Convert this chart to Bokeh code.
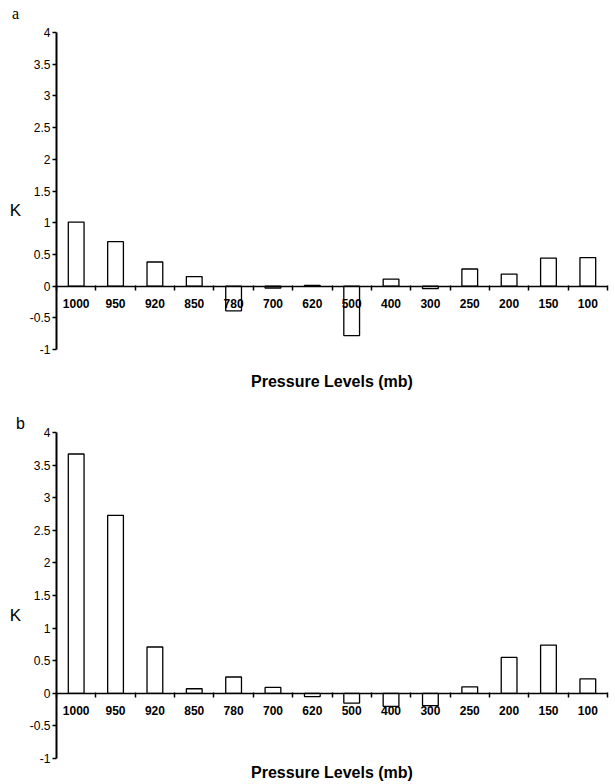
from bokeh.plotting import figure
from bokeh.layouts import column
from bokeh.models import FixedTicker, NumeralTickFormatter, Label, Range1d
from bokeh.embed import file_html
from bokeh.resources import INLINE

levels = ["1000", "950", "920", "850", "780", "700", "620", "500", "400", "300", "250", "200", "150", "100"]
anom_a = [1.01, 0.70, 0.38, 0.15, -0.39, -0.03, 0.01, -0.78, 0.11, -0.04, 0.27, 0.19, 0.44, 0.45]
anom_b = [3.67, 2.73, 0.71, 0.07, 0.25, 0.09, -0.05, -0.15, -0.20, -0.19, 0.10, 0.55, 0.74, 0.22]
y_ticks = [-1, -0.5, 0, 0.5, 1, 1.5, 2, 2.5, 3, 3.5, 4]
x_title = "Pressure Levels (mb)"
y_title = "K"

SANS = "Liberation Sans"
W = 615
H = 392
AX_LEFT = 56      # pixel of y axis
AX_RIGHT = 607    # pixel of end of x axis
Y_MIN, Y_MAX = -1, 4


def panel(vals, tag, tag_font, tag_px, top_px, bot_px, title_px):
    n = len(levels)
    xs = [i + 0.5 for i in range(n)]
    xu = (AX_RIGHT - AX_LEFT) / n          # px per category
    yu = (bot_px - top_px) / (Y_MAX - Y_MIN)  # px per unit
    x0 = -AX_LEFT / xu
    x1 = n + (W - AX_RIGHT) / xu
    y1 = Y_MAX + top_px / yu
    y0 = Y_MIN - (H - bot_px) / yu

    def dx(px):
        return x0 + px / xu

    def dy(py):
        return y1 - py / yu

    p = figure(width=W, height=H, x_range=Range1d(x0, x1), y_range=Range1d(y0, y1),
               output_backend="svg", toolbar_location=None, min_border=0)
    p.outline_line_color = None
    p.xgrid.visible = False
    p.ygrid.visible = False
    p.background_fill_color = "white"
    p.border_fill_color = "white"

    p.vbar(x=xs, top=vals, bottom=0, width=0.4, fill_color="white",
           line_color="black", line_width=1.3)

    xa = p.xaxis[0]
    xa.ticker = FixedTicker(ticks=xs, minor_ticks=list(range(n + 1)))
    xa.major_label_overrides = {x: lab for x, lab in zip(xs, levels)}
    xa.fixed_location = 0
    xa.bounds = (0, n)
    xa.major_tick_in = 0
    xa.major_tick_out = 0
    xa.minor_tick_in = 1
    xa.minor_tick_out = 4
    xa.minor_tick_line_width = 1.5
    xa.axis_line_width = 1.5
    xa.major_label_standoff = 9
    xa.major_label_text_font = SANS
    xa.major_label_text_font_style = "bold"
    xa.major_label_text_font_size = "12px"
    xa.major_label_text_color = "black"

    ya = p.yaxis[0]
    ya.ticker = FixedTicker(ticks=y_ticks)
    ya.formatter = NumeralTickFormatter(format="0.[0]")
    ya.fixed_location = 0
    ya.bounds = (Y_MIN, Y_MAX)
    ya.major_tick_in = 0
    ya.major_tick_out = 4
    ya.major_tick_line_width = 1.5
    ya.axis_line_width = 2
    ya.major_label_standoff = 2
    ya.major_label_text_font = SANS
    ya.major_label_text_font_size = "12px"
    ya.major_label_text_color = "black"

    p.add_layout(Label(x=dx(15), y=1.2, text=y_title, text_font=SANS, text_font_size="17px",
                       text_align="center", text_baseline="middle", text_color="black"))
    p.add_layout(Label(x=n / 2, y=dy(title_px), text=x_title, text_font=SANS, text_font_size="16px",
                       text_font_style="bold", text_align="center", text_baseline="middle",
                       text_color="black"))
    p.add_layout(Label(x=dx(tag_px[0]), y=dy(tag_px[1]), text=tag, text_font=tag_font,
                       text_font_size="16px", text_align="center", text_baseline="middle",
                       text_color="black"))
    return p


pa = panel(anom_a, "a", "Liberation Serif", (15, 13), 32, 349, 381)
pb = panel(anom_b, "b", SANS, (20, 31), 40, 366, 380)

layout = column(pa, pb, spacing=0)
open("out.html", "w").write(file_html(layout, INLINE))
